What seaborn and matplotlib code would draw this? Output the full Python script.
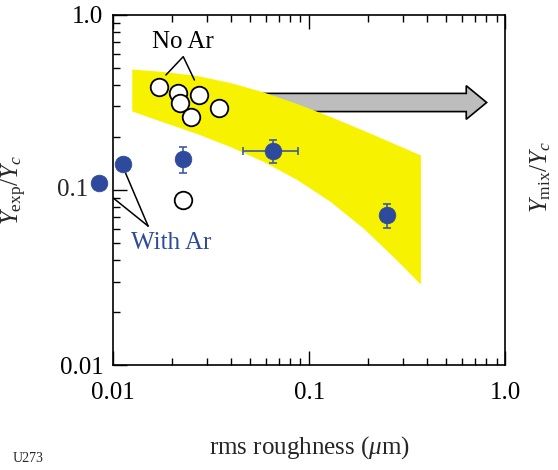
import numpy as np
import pandas as pd
import matplotlib
matplotlib.use("Agg")
import matplotlib.pyplot as plt
from matplotlib.patches import Polygon
from matplotlib.transforms import blended_transform_factory
import seaborn as sns

# ---------------- data ----------------
no_ar_x = [0.0172, 0.0215, 0.0220, 0.0275, 0.0347, 0.0250, 0.0228]
no_ar_y = [0.389, 0.360, 0.315, 0.349, 0.293, 0.260, 0.0877]

ar_x = [0.00848, 0.0112, 0.0228, 0.0657, 0.249]
ar_y = [0.110, 0.141, 0.150, 0.168, 0.072]

err_x = [0.0228, 0.0657, 0.249]
err_y = [0.150, 0.168, 0.072]
err_y_lo = [0.125, 0.142, 0.061]
err_y_hi = [0.175, 0.193, 0.083]
err_x_lo = [0.0228, 0.0459, 0.249]
err_x_hi = [0.0228, 0.0875, 0.249]

band_x = [0.01246, 0.01806, 0.02673, 0.03953, 0.05845, 0.0865, 0.1280, 0.1893, 0.2802, 0.3685]
band_hi = [0.491, 0.4755, 0.451, 0.411, 0.363, 0.312, 0.263, 0.219, 0.181, 0.1585]
band_lo = [0.283, 0.2446, 0.2103, 0.1772, 0.1455, 0.1148, 0.0860, 0.0603, 0.0396, 0.0290]

x_ticks = [0.01, 0.1, 1.0]
x_ticklabels = ["0.01", "0.1", "1.0"]
y_ticks = [0.01, 0.1, 1.0]
y_ticklabels = ["0.01", "", "1.0"]
y_mid_label = "0.1"
y_mid_value = 0.1

# annotation geometry
no_ar_line_x = [0.0186, 0.0228, 0.0260]
no_ar_line_y = [0.454, 0.578, 0.425]
no_ar_text_xy = (0.0228, 0.70)
with_ar_line1_x = [0.00892, 0.0151]
with_ar_line1_y = [0.100, 0.0622]
with_ar_line2_x = [0.0116, 0.0151]
with_ar_line2_y = [0.1246, 0.0622]
with_ar_text_xy = (0.0199, 0.0496)

BLUE = "#2D4A9C"
YELLOW = "#F7F300"

# ---------------- style ----------------
sns.set_theme(style="ticks")
plt.rcParams["font.family"] = ["Liberation Serif", "DejaVu Serif"]
plt.rcParams["mathtext.fontset"] = "custom"
plt.rcParams["mathtext.rm"] = "Liberation Serif"
plt.rcParams["mathtext.it"] = "Liberation Serif:italic"
plt.rcParams["mathtext.bf"] = "Liberation Serif:bold"

fig = plt.figure(figsize=(5.58, 4.70), dpi=100)
ax = fig.add_axes([0.2025, 0.2234, 0.7034, 0.7447])
ax.set_xscale("log")
ax.set_yscale("log")
ax.set_xlim(0.01, 1.0)
ax.set_ylim(0.01, 1.0)

# arrow (behind band)
arrow = Polygon([(0.30, 0.776), (0.90, 0.776), (0.90, 0.798), (0.952, 0.750),
                 (0.90, 0.702), (0.90, 0.724), (0.30, 0.724)],
                closed=True, transform=ax.transAxes, facecolor="#BDBDBD",
                edgecolor="black", linewidth=1.2, zorder=1)
ax.add_patch(arrow)

# yellow band
ax.fill_between(band_x, band_lo, band_hi, color=YELLOW, linewidth=0, zorder=2)

# error bars
ax.errorbar(err_x, err_y,
            yerr=[np.array(err_y) - np.array(err_y_lo), np.array(err_y_hi) - np.array(err_y)],
            xerr=[np.array(err_x) - np.array(err_x_lo), np.array(err_x_hi) - np.array(err_x)],
            fmt="none", ecolor="#3E5C9E", elinewidth=1.2, capsize=3, capthick=1.2, zorder=3)

df_no = pd.DataFrame({"x": no_ar_x, "y": no_ar_y})
df_ar = pd.DataFrame({"x": ar_x, "y": ar_y})
sns.scatterplot(data=df_no, x="x", y="y", ax=ax, s=160, marker="o",
                facecolor="white", edgecolor="black", linewidth=1.3, zorder=4, clip_on=False)
sns.scatterplot(data=df_ar, x="x", y="y", ax=ax, s=145, marker="o",
                color=BLUE, edgecolor=BLUE, linewidth=0.5, zorder=4, clip_on=False)

# annotations
ax.plot(no_ar_line_x, no_ar_line_y, color="black", lw=1.1, zorder=3)
ax.text(*no_ar_text_xy, "No Ar", ha="center", va="center", fontsize=18, color="black")
ax.plot(with_ar_line1_x, with_ar_line1_y, color="black", lw=1.1, zorder=3)
ax.plot(with_ar_line2_x, with_ar_line2_y, color="black", lw=1.1, zorder=3)
ax.text(*with_ar_text_xy, "With Ar", ha="center", va="center", fontsize=18, color=BLUE)

# axes styling
ax.set_xticks(x_ticks)
ax.set_xticklabels(x_ticklabels)
ax.set_yticks(y_ticks)
ax.set_yticklabels(y_ticklabels)
ax.tick_params(which="both", direction="in", top=True, right=True, colors="black",
               labelsize=18)
ax.tick_params(which="major", length=10, width=1.0)
ax.tick_params(which="minor", length=5, width=1.0)
ax.tick_params(axis="x", which="major", pad=12)
ax.tick_params(axis="y", which="major", pad=7)
for sp in ax.spines.values():
    sp.set_linewidth(1.2)
    sp.set_color("black")
    sp.set_visible(True)

# the 0.1 label sits further left in the reference (clear of the data point)
ax.text(-0.064, y_mid_value, y_mid_label, fontsize=18, ha="right", va="center",
        transform=blended_transform_factory(ax.transAxes, ax.transData))

ax.set_xlabel(r"rms roughness ($\mu$m)", fontsize=18, labelpad=22)
ax.set_ylabel(r"$Y_{\rm exp}/Y_c$", fontsize=18)
ax.yaxis.set_label_coords(-0.215, 0.5)

ax2 = ax.twinx()
ax2.set_yscale("log")
ax2.set_ylim(0.01, 1.0)
ax2.tick_params(which="both", right=False, labelright=False)
ax2.set_ylabel(r"$Y_{\rm mix}/Y_c$", fontsize=18)
ax2.yaxis.set_label_coords(1.058, 0.537)
for sp in ax2.spines.values():
    sp.set_visible(False)

fig.text(28 / 558, 1 - 459 / 470, "U273", fontsize=10, ha="center", va="center")

fig.savefig("out.png", dpi=100)
